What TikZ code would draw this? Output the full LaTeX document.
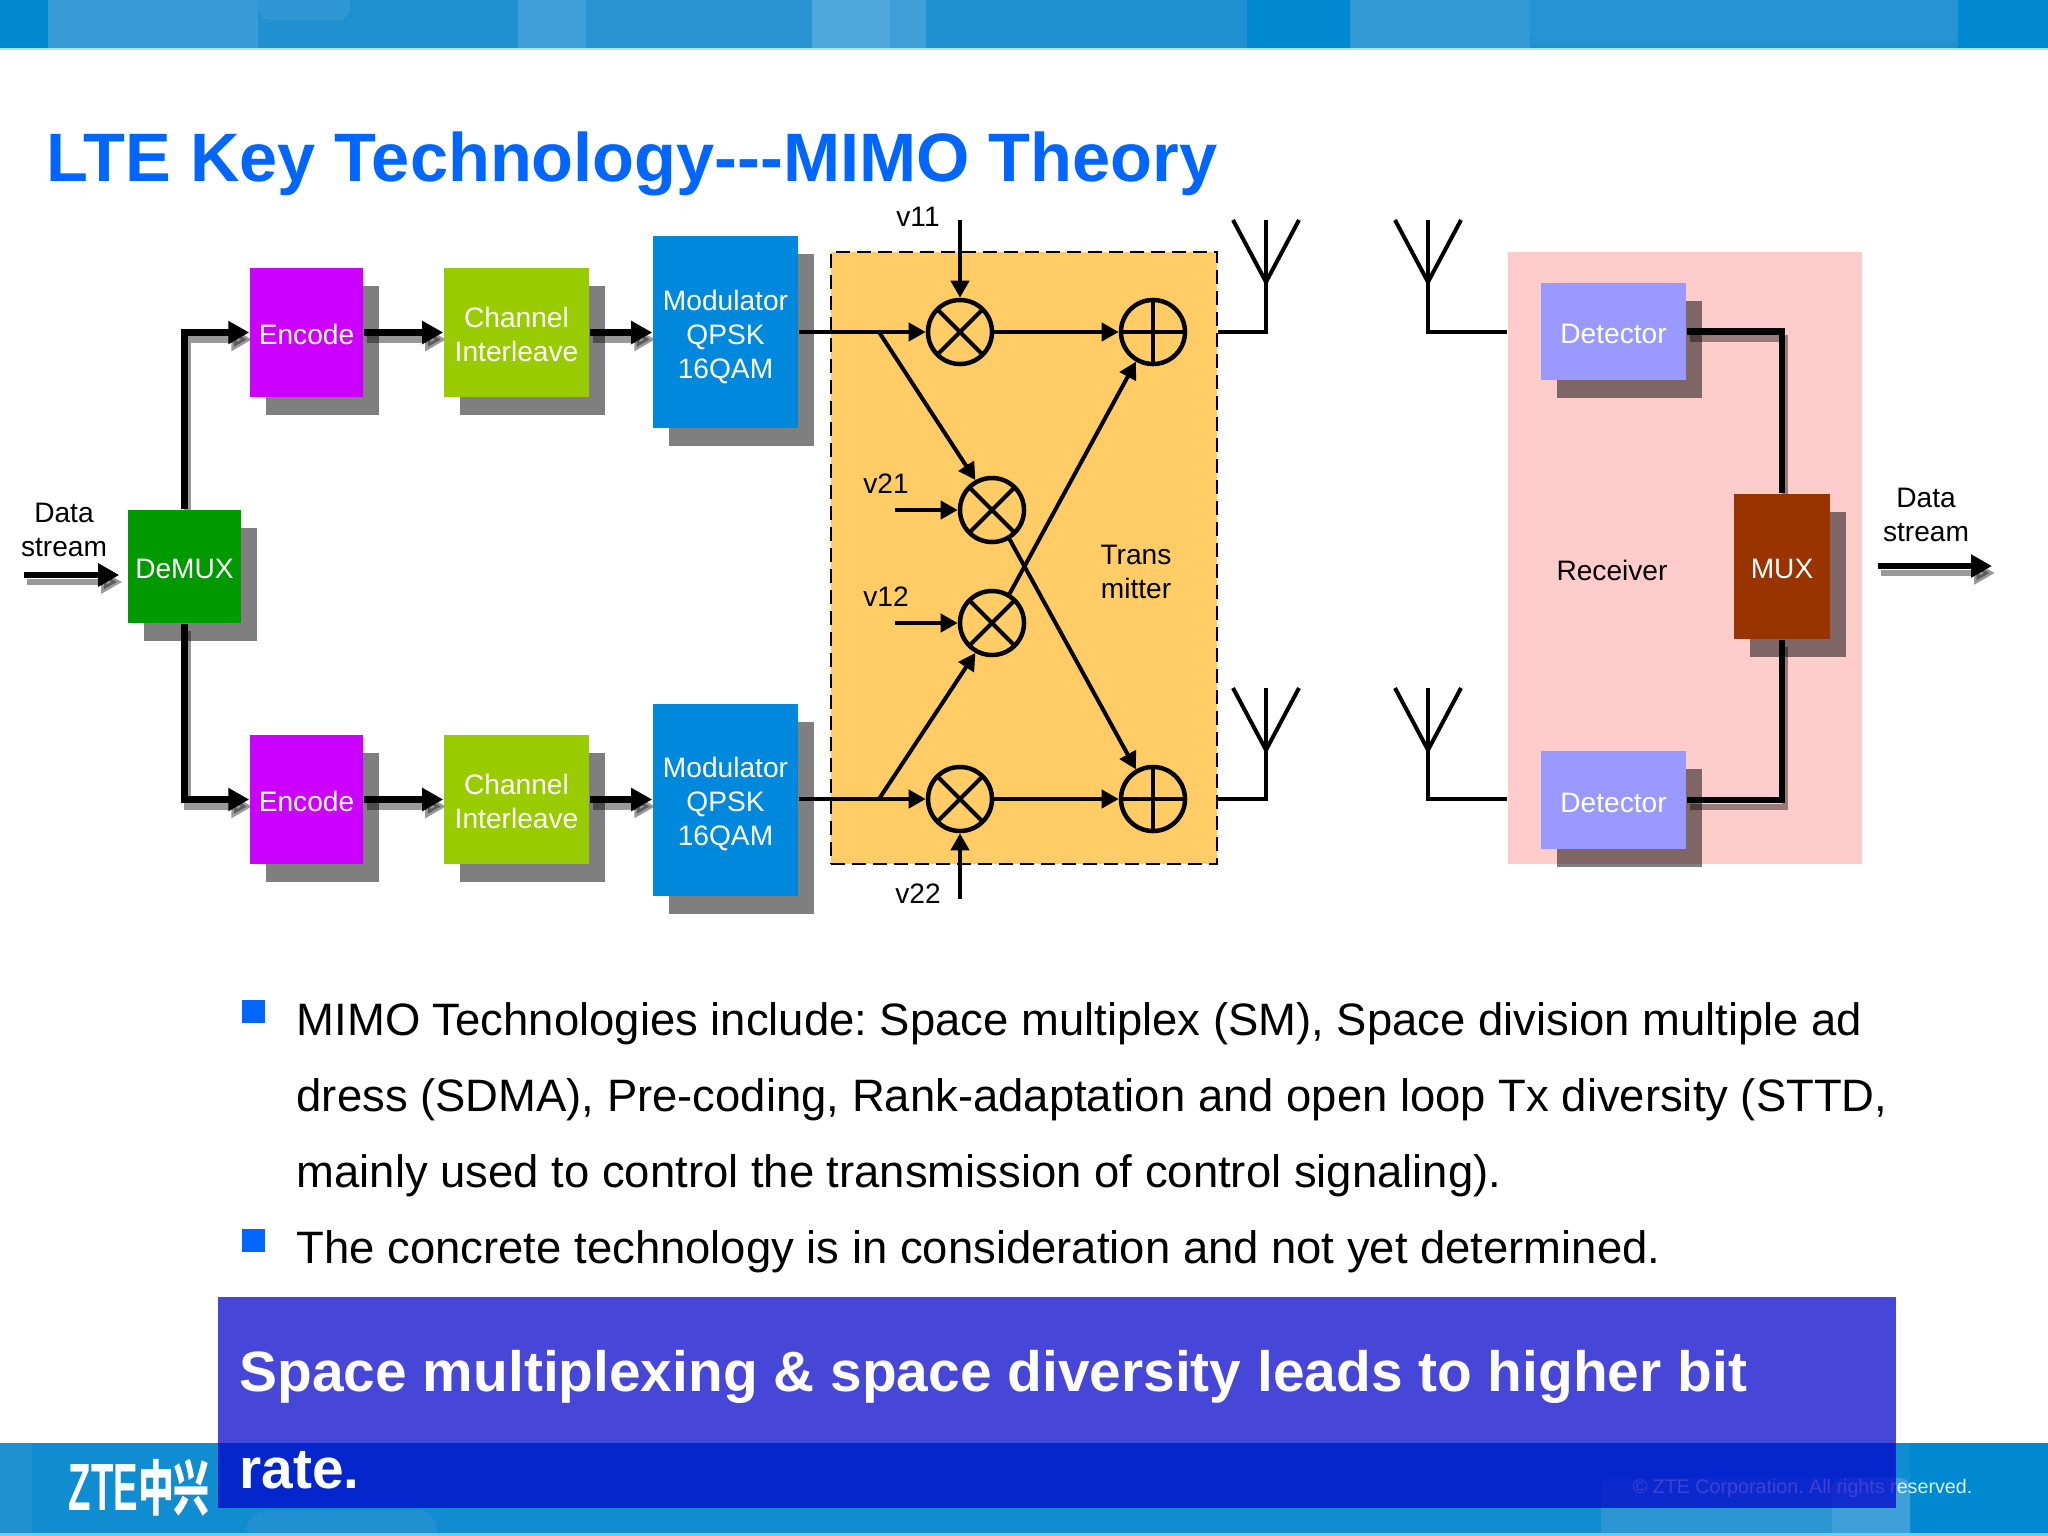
\documentclass[tikz,border=0pt]{standalone}
\usepackage{fontspec}
\setmainfont{Liberation Sans}
\newfontfamily\cjkfont{Noto Sans CJK SC}
\usetikzlibrary{arrows.meta,shadows}
\definecolor{barbase}{HTML}{2090D0}
\definecolor{bardark}{HTML}{0088D0}
\definecolor{barlight}{HTML}{3F9FD8}
\definecolor{barpale}{HTML}{4EA8DD}
\definecolor{titleblue}{HTML}{0066FF}
\definecolor{encodecol}{HTML}{CC00FF}
\definecolor{channelcol}{HTML}{99CC00}
\definecolor{modcol}{HTML}{0088DD}
\definecolor{demuxcol}{HTML}{009900}
\definecolor{detectcol}{HTML}{9999FF}
\definecolor{muxcol}{HTML}{993300}
\definecolor{txcol}{HTML}{FFCC66}
\definecolor{rxcol}{HTML}{FFCCCC}
\pgfdeclarelayer{under}
\pgfsetlayers{under,main}
\tikzset{
  lbl/.style={font=\fontsize{8}{9.7}\selectfont,align=center,inner sep=0pt},
  blockbox/.style={lbl,text=white,inner sep=0pt,
    drop shadow={shadow xshift=.16cm,shadow yshift=-.18cm,fill=black,opacity=.5}},
  encbox/.style={blockbox,fill=encodecol,minimum width=1.13cm,minimum height=1.29cm},
  chanbox/.style={blockbox,fill=channelcol,minimum width=1.45cm,minimum height=1.29cm},
  modbox/.style={blockbox,fill=modcol,minimum width=1.45cm,minimum height=1.92cm},
  detbox/.style={blockbox,fill=detectcol,minimum width=1.45cm,minimum height=.97cm},
  wire/.style={line width=.04cm,-{Triangle[length=.17cm,width=.18cm]}},
  plainwire/.style={line width=.04cm},
  thickwire/.style={line width=.065cm,-{Triangle[length=.21cm,width=.22cm]}},
  thickplain/.style={line width=.065cm},
  wireshade/.style={black,opacity=.4,transform canvas={xshift=.03cm,yshift=-.07cm}},
  mulnode/.style={circle,draw,line width=.045cm,minimum size=.64cm,inner sep=0pt,
    path picture={\draw[line width=.04cm] (path picture bounding box.north west) -- (path picture bounding box.south east);
      \draw[line width=.04cm] (path picture bounding box.north east) -- (path picture bounding box.south west);}},
  addnode/.style={circle,draw,line width=.045cm,minimum size=.64cm,inner sep=0pt,
    path picture={\draw[line width=.04cm] (path picture bounding box.north) -- (path picture bounding box.south);
      \draw[line width=.04cm] (path picture bounding box.west) -- (path picture bounding box.east);}},
  bulletbox/.style={fill=titleblue,minimum size=.23cm,inner sep=0pt},
  bodytext/.style={font=\fontsize{12.92}{21.6}\selectfont,align=left,anchor=west,inner sep=0pt}
}
\newcommand{\shwire}[2]{%
  \begin{pgfonlayer}{under}\draw[#1,wireshade] #2;\end{pgfonlayer}
  \draw[#1] #2;}
\newcommand{\lift}[1]{\rule{0pt}{#1}}
\frenchspacing
\begin{document}
\begin{tikzpicture}[x=.01cm,y=-.01cm]
\useasboundingbox (0,0) rectangle (2048,1536);
\begin{pgfonlayer}{under}
% header and footer bands
\foreach \xa/\xb/\col in {0/48/bardark,48/258/barbase!30!barlight,258/518/barbase,518/586/barlight,586/812/barbase!70!barlight,812/890/barpale,890/926/barlight,926/1247/barbase,1247/1350/bardark,1350/1530/barbase!40!barlight,1530/1958/barbase,1958/2048/bardark}
  \fill[\col] (\xa,0) rectangle (\xb,48);
\fill[barbase!50!barlight,rounded corners=.12cm] (258,-20) rectangle (350,20);
\fill[barbase!80!barlight,rounded corners=.12cm] (1530,-20) rectangle (1958,44);
\fill[cyan!35!white] (0,48) rectangle (2048,50);
\foreach \xa/\xb/\col in {0/32/barbase,32/1910/barbase!50!bardark,1910/2048/bardark}
  \fill[\col] (\xa,1443) rectangle (\xb,1536);
\fill[barbase!60!barlight,rounded corners=.1cm] (1601,1478) rectangle (1832,1560);
\fill[barlight,rounded corners=.1cm] (1832,1478) rectangle (1910,1560);
\fill[barbase,rounded corners=.2cm] (247,1510) rectangle (437,1560);
\fill[cyan!60!white] (0,1533) rectangle (2048,1536);
\node[inner sep=0pt,text=cyan!15!white,font=\fontsize{5.6}{6}\selectfont,anchor=east] (copy) at (1973,1488) {© ZTE Corporation. All rights reserved.};
\node[inner sep=0pt,text=white,font=\fontsize{19}{20}\selectfont\bfseries,anchor=west] (logo) at (68,1488) {\scalebox{.55}[1]{ZTE}\scalebox{.6}[1]{\cjkfont\fontsize{17}{20}\selectfont 中兴}};
\node[fill=txcol,draw=black,line width=.025cm,dash pattern=on .14cm off .07cm,minimum width=3.86cm,minimum height=6.12cm,inner sep=0pt] (tx) at (1024,558) {};
\node[fill=rxcol,minimum width=3.54cm,minimum height=6.12cm,inner sep=0pt] (rx) at (1685,558) {};
\end{pgfonlayer}

\node[inner sep=0pt,anchor=west,text=titleblue,font=\fontsize{19.5}{22}\selectfont\bfseries] (title) at (46,164) {LTE Key Technology-{}-{}-MIMO Theory};

% transmit chain
\node[blockbox,fill=demuxcol,minimum size=1.13cm] (demux) at (184.5,566.5) {\lift{7pt}DeMUX};
\node[encbox] (enc1) at (306.5,332.5) {\lift{7pt}Encode};
\node[chanbox] (chan1) at (516.5,332.5) {\lift{7pt}Channel\\Interleave};
\node[modbox] (mod1) at (725.5,332) {\lift{8.6pt}Modulator\\QPSK\\16QAM};
\node[encbox] (enc2) at (306.5,799.5) {\lift{7pt}Encode};
\node[chanbox] (chan2) at (516.5,799.5) {\lift{7pt}Channel\\Interleave};
\node[modbox] (mod2) at (725.5,800) {\lift{8pt}Modulator\\QPSK\\16QAM};
\node[lbl] (dsin) at (64,530) {Data\\stream};
\coordinate (in1) at (24,575);
\shwire{thickwire,shorten >=.08cm}{(in1) -- (demux.west |- in1)}
\shwire{thickwire}{(demux.north) |- (enc1.west)}
\shwire{thickwire}{(demux.south) |- (enc2.west)}
\shwire{thickwire}{(enc1) -- (chan1)}
\shwire{thickwire}{(chan1) -- (chan1 -| mod1.west)}
\shwire{thickwire}{(enc2) -- (chan2)}
\shwire{thickwire}{(chan2) -- (chan2 -| mod2.west)}

% mixers inside the transmitter
\node[mulnode] (m11) at (960,332) {};
\node[mulnode] (m21) at (992,510) {};
\node[mulnode] (m12) at (992,623) {};
\node[mulnode] (m22) at (960,799) {};
\node[addnode] (add1) at (1153,332) {};
\node[addnode] (add2) at (1153,799) {};
\node[lbl] (v11) at (918,217) {v11};
\node[lbl] (v21) at (886,484) {v21};
\node[lbl] (v12) at (886,597) {v12};
\node[lbl] (v22) at (918,894) {v22};
\node[lbl] (txlabel) at (1136,572) {Trans\\mitter};
\coordinate (br1) at (879,332);
\coordinate (br2) at (879,799);
\coordinate (vin11) at (960,220);
\coordinate (vin21) at (895,510);
\coordinate (vin12) at (895,623);
\coordinate (vin22) at (960,899);
\draw[wire] (mod1.east |- m11) -- (m11);
\draw[wire] (mod2.east |- m22) -- (m22);
\draw[wire] (m11) -- (add1);
\draw[wire] (m22) -- (add2);
\draw[wire] (vin11) -- (m11);
\draw[wire] (vin22) -- (m22);
\draw[wire] (vin21) -- (m21);
\draw[wire] (vin12) -- (m12);
\draw[wire] (br1) -- (m21.119);
\draw[wire] (br2) -- (m12.241);
\draw[wire] (m21.-59) -- (add2.120);
\draw[wire] (m12.59) -- (add1.240);

% antennas
\coordinate (ant1) at (1266,282);
\coordinate (ant2) at (1266,750);
\coordinate (ant3) at (1428,282);
\coordinate (ant4) at (1428,750);
\foreach \n in {ant1,ant2,ant3,ant4} {
  \draw[plainwire] (\n) -- ++(0,-62);
  \draw[plainwire] (\n) -- ++(-33,-62);
  \draw[plainwire] (\n) -- ++(33,-62);
}
\draw[plainwire] (tx.east |- add1) -| (ant1);
\draw[plainwire] (tx.east |- add2) -| (ant2);
\draw[plainwire] (ant3) |- (rx.west |- add1);
\draw[plainwire] (ant4) |- (rx.west |- add2);

% receiver
\node[detbox] (det1) at (1613.5,331.5) {\lift{7pt}Detector};
\node[detbox] (det2) at (1613.5,800) {\lift{7pt}Detector};
\node[blockbox,fill=muxcol,minimum width=.96cm,minimum height=1.45cm] (mux) at (1782,566.5) {\lift{7pt}MUX};
\node[lbl] (rxlabel) at (1612,570) {Receiver};
\node[lbl] (dsout) at (1926,515) {Data\\stream};
\shwire{thickplain}{(det1.east) -| (mux.north)}
\shwire{thickplain}{(det2.east) -| (mux.south)}
\coordinate (out1) at (1878,566);
\coordinate (out2) at (1992,566);
\shwire{thickwire}{(out1) -- (out2)}

% bullets
\node[bulletbox] (bul1) at (253.5,1011) {};
\node[bulletbox] (bul2) at (253.5,1240) {};
\node[bodytext] (body1) at (296,1100) {MIMO Technologies include: Space multiplex (SM), Space division multiple ad\\dress (SDMA), Pre-coding, Rank-adaptation and open loop Tx diversity (STTD,\\mainly used to control the transmission of control signaling).};
\node[bodytext] (body2) at (296,1252) {The concrete technology is in consideration and not yet determined.};

% banner
\node[fill={rgb,255:red,0;green,0;blue,203},fill opacity=.725,minimum width=16.77cm,minimum height=2.11cm,inner sep=0pt] (banner) at (1056.5,1402.5) {};
\node[text=white,anchor=west,align=left,inner sep=0pt,font=\fontsize{16.17}{27.5}\selectfont\bfseries] (bantext) at (239,1420) {Space multiplexing \& space diversity leads to higher bit\\rate.};
\end{tikzpicture}
\end{document}
